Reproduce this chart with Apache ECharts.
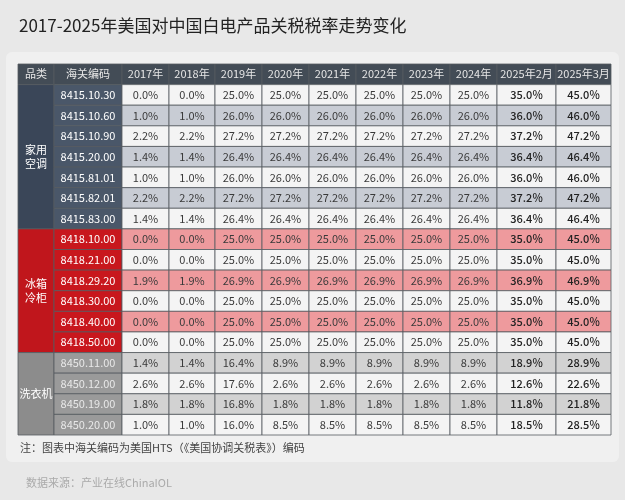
<!DOCTYPE html>
<html><head><meta charset="utf-8">
<script src="https://cdn.jsdelivr.net/npm/echarts@6/dist/echarts.min.js"></script>
<style>html,body{margin:0;padding:0;background:#e8e8e8;}#c{width:625px;height:500px;}</style>
</head><body><div id="c"></div>
<script>
const title = '2017-2025年美国对中国白电产品关税税率走势变化';
const headers = ['品类','海关编码','2017年','2018年','2019年','2020年','2021年','2022年','2023年','2024年','2025年2月','2025年3月'];
const groups = ['家用\n空调','冰箱\n冷柜','洗衣机'];
const groupSizes = [7,6,4];
const codes = ['8415.10.30','8415.10.60','8415.10.90','8415.20.00','8415.81.01','8415.82.01','8415.83.00',
 '8418.10.00','8418.21.00','8418.29.20','8418.30.00','8418.40.00','8418.50.00',
 '8450.11.00','8450.12.00','8450.19.00','8450.20.00'];
const rates = [
 [0.0,0.0,25.0,25.0,25.0,25.0,25.0,25.0,35.0,45.0],
 [1.0,1.0,26.0,26.0,26.0,26.0,26.0,26.0,36.0,46.0],
 [2.2,2.2,27.2,27.2,27.2,27.2,27.2,27.2,37.2,47.2],
 [1.4,1.4,26.4,26.4,26.4,26.4,26.4,26.4,36.4,46.4],
 [1.0,1.0,26.0,26.0,26.0,26.0,26.0,26.0,36.0,46.0],
 [2.2,2.2,27.2,27.2,27.2,27.2,27.2,27.2,37.2,47.2],
 [1.4,1.4,26.4,26.4,26.4,26.4,26.4,26.4,36.4,46.4],
 [0.0,0.0,25.0,25.0,25.0,25.0,25.0,25.0,35.0,45.0],
 [0.0,0.0,25.0,25.0,25.0,25.0,25.0,25.0,35.0,45.0],
 [1.9,1.9,26.9,26.9,26.9,26.9,26.9,26.9,36.9,46.9],
 [0.0,0.0,25.0,25.0,25.0,25.0,25.0,25.0,35.0,45.0],
 [0.0,0.0,25.0,25.0,25.0,25.0,25.0,25.0,35.0,45.0],
 [0.0,0.0,25.0,25.0,25.0,25.0,25.0,25.0,35.0,45.0],
 [1.4,1.4,16.4,8.9,8.9,8.9,8.9,8.9,18.9,28.9],
 [2.6,2.6,17.6,2.6,2.6,2.6,2.6,2.6,12.6,22.6],
 [1.8,1.8,16.8,1.8,1.8,1.8,1.8,1.8,11.8,21.8],
 [1.0,1.0,16.0,8.5,8.5,8.5,8.5,8.5,18.5,28.5]
];
const note = '注：图表中海关编码为美国HTS（《美国协调关税表》）编码';
const source = '数据来源：产业在线ChinaIOL';

const colW = [36,68,47,46,47,47,47,47,47,47,59,55];
const colStart = []; {let s=0; colW.forEach(w=>{colStart.push(s); s+=w;});}
const totalW = colW.reduce((a,b)=>a+b,0);
const groupStyle = [
 {cat:'#3a4658', code:'#4a5769', codeText:'#ffffff', a:'#f4f4f4', b:'#c8ccd4'},
 {cat:'#c0161c', code:'#c8171d', codeText:'#ffffff', a:'#ee9a9d', b:'#f4f4f4'},
 {cat:'#8c8c8c', code:'#9a9a9a', codeText:'#e8e8e8', a:'#d2d2d2', b:'#f4f4f4'}
];

const cells = [];
headers.forEach((h,c)=>cells.push([c,0,1,h,'#434c56','#e6e6e6',0]));
let r = 1;
groups.forEach((g,gi)=>{
  const st = groupStyle[gi];
  cells.push([0,r,groupSizes[gi],g,st.cat,'#ffffff',0]);
  for(let k=0;k<groupSizes[gi];k++){
    const i = r-1;
    const bg = k%2===0?st.a:st.b;
    cells.push([1,r,1,codes[i],st.code,st.codeText,0]);
    rates[i].forEach((v,j)=>cells.push([j+2,r,1,v.toFixed(1)+'%',bg,j>=8?'#222':'#3a3a3a',j>=8?1:0]));
    r++;
  }
});
const rowCats = Array.from({length:18},(_,i)=>String(i));

const chart = echarts.init(document.getElementById('c'));
chart.setOption({
  backgroundColor:'#e8e8e8',
  animation:false,
  title:{text:title,left:14,top:12,textStyle:{fontSize:17,fontWeight:'normal',color:'#222',fontFamily:'Noto Sans CJK SC'}},
  graphic:[
    {type:'rect',shape:{x:6,y:52,width:613,height:410,r:6},style:{fill:'#f0f0f0'},z:-10},
    {type:'text',left:20,top:442,style:{text:note,fontSize:11,fill:'#444',fontFamily:'Noto Sans CJK SC'}},
    {type:'text',left:26,top:477,style:{text:source,fontSize:11,fill:'#aaa',fontFamily:'Noto Sans CJK SC'}}
  ],
  grid:{left:18,top:64,width:593,height:371},
  xAxis:{type:'value',min:0,max:totalW,show:false},
  yAxis:{type:'category',data:rowCats,inverse:true,show:false},
  series:[{
    type:'custom',
    data:cells,
    renderItem:function(params,api){
      const c=api.value(0), row=api.value(1), span=api.value(2);
      const p0=api.coord([colStart[c],row]);
      const p1=api.coord([colStart[c]+colW[c],row]);
      const h=api.size([0,1])[1];
      const x=p0[0], y=p0[1]-h/2, w=p1[0]-p0[0], hh=h*span;
      const d=cells[params.dataIndex];
      return {type:'rect',shape:{x:x,y:y,width:w,height:hh},
        style:{fill:d[4],stroke:'#555a60',lineWidth:0.8},
        textContent:{style:{text:d[3],fill:d[5],fontSize:11,fontWeight:d[6]?500:'normal',fontFamily:'Noto Sans CJK SC',align:'center',lineHeight:14}},
        textConfig:{position:'inside'}};
    }
  }]
});
</script></body></html>
